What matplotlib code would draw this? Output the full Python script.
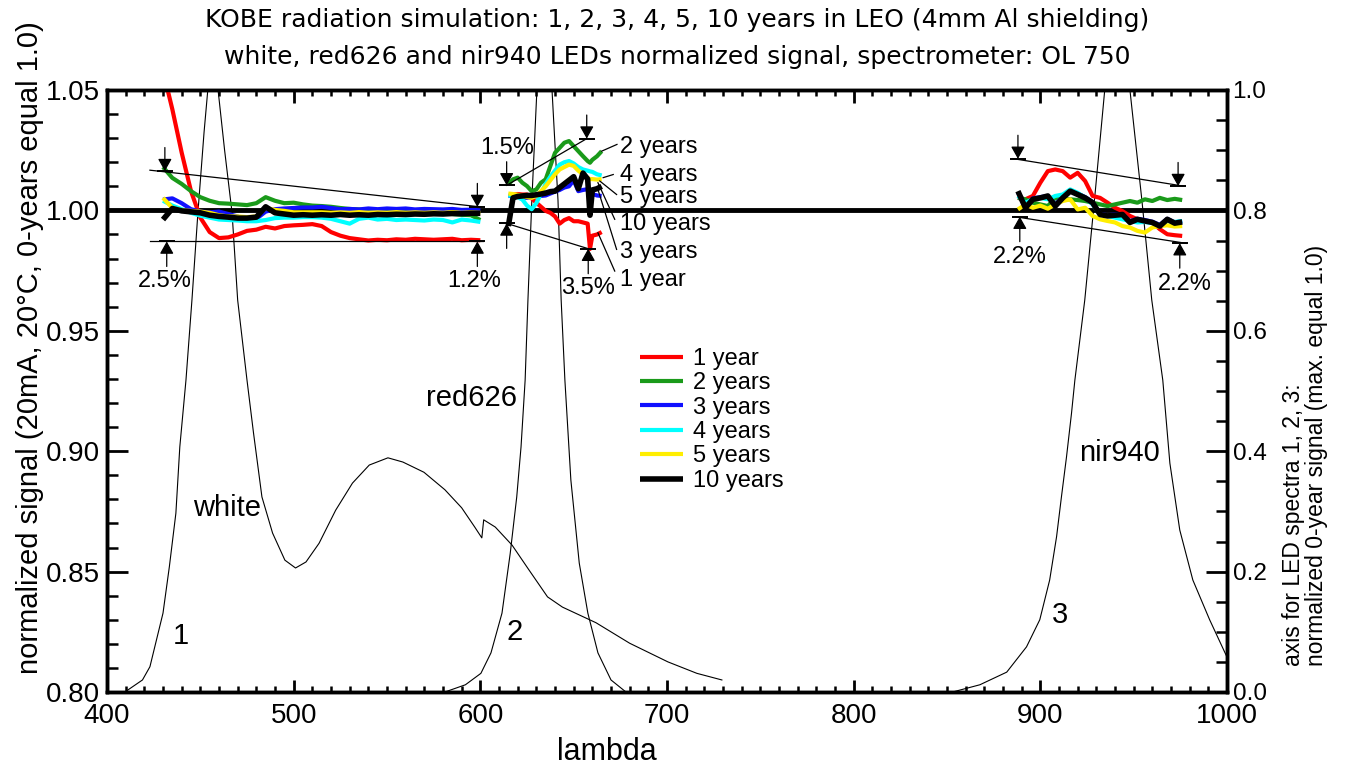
import matplotlib
matplotlib.use('Agg')
import matplotlib.pyplot as plt
import numpy as np
from matplotlib.ticker import MultipleLocator, FormatStrFormatter

plt.rcParams['font.family'] = ['Liberation Sans', 'DejaVu Sans']

# ---- LED spectra (right axis, max normalized to 1.0) ----
white_wl = [409.6, 419, 423, 430, 433.4, 436.9, 439, 442.3, 445.5, 448.7, 452, 454, 457, 459.5,
            463, 467, 470, 475, 478.5, 483, 488.7, 495.3, 501, 506.6, 513.6, 522.5, 531.5,
            540.5, 550.5, 558.5, 569.8, 581, 590, 597, 600.8, 601.8, 608, 617, 626, 636, 644,
            662, 680, 700.5, 716, 729.4]
white_sig = [0.0, 0.02, 0.042, 0.131, 0.208, 0.297, 0.407, 0.518, 0.651, 0.796, 0.93, 1.0, 1.03, 1.0,
             0.90, 0.796, 0.651, 0.518, 0.43, 0.324, 0.264, 0.219, 0.206, 0.216, 0.247, 0.302, 0.347,
             0.377, 0.389, 0.382, 0.365, 0.336, 0.306, 0.274, 0.256, 0.286, 0.274, 0.244, 0.203, 0.158, 0.141,
             0.115, 0.081, 0.050, 0.031, 0.020]

red626_wl = [581, 592, 600.3, 605.7, 611.6, 616, 619.5, 621.8, 624, 625.5, 627.6, 630.3, 634.5,
             638.4, 641.6, 643.3, 645.3, 648.5, 653, 657.6, 663, 670, 678]
red626_sig = [0.0, 0.012, 0.031, 0.065, 0.131, 0.23, 0.324, 0.407, 0.518, 0.651, 0.817, 1.0, 1.1,
              1.0, 0.817, 0.651, 0.518, 0.352, 0.214, 0.131, 0.065, 0.020, 0.0]

nir940_wl = [853, 867.6, 882, 892.6, 899.7, 905, 908.7, 911.3, 914, 916.7, 918.5, 923.8, 929, 934.5,
             941, 948, 954.4, 959.7, 965.6, 969.4, 974.7, 981.7, 990.7, 1000]
nir940_sig = [0.0, 0.012, 0.033, 0.075, 0.12, 0.186, 0.258, 0.324, 0.39, 0.463, 0.518, 0.651, 0.817, 1.0,
              1.1, 1.0, 0.817, 0.651, 0.518, 0.38, 0.269, 0.186, 0.12, 0.058]

# ---- normalized signal after irradiation (left axis) ----
years = ['1 year', '2 years', '3 years', '4 years', '5 years', '10 years']
colors = ['#ff0000', '#1a9a1a', '#1010ff', '#00ffff', '#ffee00', '#000000']

# white LED band
wl_white = [430, 435, 440, 445, 450, 455, 460, 465, 470, 475, 480, 485, 490, 495, 500, 505, 510,
            515, 520, 525, 530, 535, 540, 545, 550, 555, 560, 565, 570, 575, 580, 585, 590, 595, 600]
white_1y = [1.058, 1.042, 1.024, 1.008, 0.997, 0.991, 0.9885, 0.9888, 0.990, 0.9915, 0.992, 0.9932,
            0.9925, 0.9935, 0.9938, 0.994, 0.9943, 0.9935, 0.991, 0.9895, 0.9885, 0.988, 0.9875, 0.9878,
            0.9876, 0.988, 0.9878, 0.9882, 0.988, 0.9878, 0.988, 0.9882, 0.9876, 0.9878, 0.9876]
white_2y = [1.018, 1.0135, 1.011, 1.008, 1.0055, 1.004, 1.003, 1.0028, 1.0025, 1.0022, 1.003, 1.0055,
            1.004, 1.003, 1.0032, 1.0025, 1.002, 1.0018, 1.0015, 1.001, 1.0006, 1.0004, 1.0, 0.9998,
            0.9995, 0.9997, 0.9993, 0.9995, 0.9992, 0.9988, 0.999, 0.9985, 0.9982, 0.998, 0.996]
white_3y = [1.0045, 1.005, 1.003, 1.0005, 0.9995, 0.9992, 0.9995, 0.9985, 0.9975, 0.996, 0.9965, 0.9995,
            1.0005, 1.0008, 1.001, 1.0012, 1.0012, 1.0015, 1.001, 1.0005, 1.0006, 1.0004, 1.0008, 1.0005,
            1.0008, 1.0006, 1.0008, 1.0004, 1.0006, 1.0005, 1.0004, 1.0006, 1.0002, 1.0003, 1.0]
white_4y = [1.004, 1.002, 1.0005, 0.999, 0.9978, 0.997, 0.9962, 0.996, 0.9958, 0.9955, 0.9955, 0.996,
            0.9968, 0.997, 0.997, 0.9972, 0.9972, 0.997, 0.9965, 0.9955, 0.9945, 0.9965, 0.997, 0.9962,
            0.9965, 0.996, 0.9962, 0.996, 0.9958, 0.9962, 0.996, 0.995, 0.9962, 0.9958, 0.9952]
white_5y = [1.0052, 1.001, 1.0, 0.9998, 0.9995, 0.999, 0.998, 0.9975, 0.9975, 0.9972, 0.9975, 1.001,
            1.0002, 0.9998, 0.9992, 0.9992, 0.9992, 0.9992, 0.999, 0.9992, 0.999, 0.9993, 0.999, 0.9992,
            0.999, 0.9993, 0.999, 0.9992, 0.999, 0.9992, 0.999, 0.9993, 0.999, 0.9992, 0.999]
white_10y = [0.9962, 1.0008, 0.9998, 0.9994, 0.999, 0.998, 0.9975, 0.9972, 0.9968, 0.9968, 0.9972, 1.0015,
             0.999, 0.9985, 0.998, 0.9982, 0.998, 0.9982, 0.998, 0.9983, 0.998, 0.9982, 0.998, 0.9983,
             0.9982, 0.9984, 0.9983, 0.9985, 0.9984, 0.9986, 0.9985, 0.9987, 0.9986, 0.9988, 0.9988]

# red626 LED band
wl_red = [615, 617.5, 620, 622.5, 625, 627.5, 630, 632.5, 635, 637.5, 640, 642.5, 645, 647.5, 650,
          652.5, 655, 657.5, 658.75, 660, 662.5, 665]
red_1y = [np.nan, 1.0066, 1.0068, 1.0066, 1.0066, 1.005, 1.0032, 1.0015, 0.9998, 0.999, 0.9975, 0.9945,
          0.996, 0.9968, 0.9955, 0.9955, 0.995, 0.9945, 0.984, 0.9895, 0.990, 0.991]
red_2y = [1.0108, 1.0129, 1.0136, 1.0115, 1.0101, 1.008, 1.0087, 1.0115, 1.0129, 1.0184, 1.0239, 1.026,
          1.0281, 1.0288, 1.0267, 1.0246, 1.0225, 1.0205, 1.0198, 1.021, 1.0225, 1.0246]
red_3y = [1.006, 1.006, 1.0058, 1.0055, 1.0052, 1.0055, 1.0058, 1.006, 1.0062, 1.007, 1.0078, 1.0085,
          1.0095, 1.010, 1.0125, 1.008, 1.0085, 1.0088, 1.008, 1.0068, 1.0062, 1.006]
red_4y = [1.0062, 1.006, 1.0055, 1.0045, 1.002, 1.0005, 1.003, 1.007, 1.011, 1.014, 1.0165, 1.019,
          1.020, 1.0205, 1.0195, 1.018, 1.017, 1.0165, 1.0162, 1.016, 1.015, 1.0145]
red_5y = [1.007, 1.0068, 1.0065, 1.006, 1.0055, 1.0052, 1.006, 1.008, 1.010, 1.0125, 1.015, 1.017,
          1.018, 1.019, 1.0185, 1.0165, 1.015, 1.0135, 1.013, 1.013, 1.0128, 1.013]
red_10y = [0.9935, 1.0052, 1.0058, 1.006, 1.0062, 1.0062, 1.0065, 1.0068, 1.0072, 1.0078, 1.008, 1.0095,
           1.011, 1.0125, 1.014, 1.009, 1.0155, 1.013, 0.998, 1.0085, 1.009, 1.010]

# nir940 LED band
wl_nir = [888, 892, 896, 900, 904, 908, 912, 916, 920, 924, 928, 932, 936, 940, 944, 948, 952, 956,
          960, 964, 968, 972, 976]
nir_1y = [1.0052, 1.0046, 1.006, 1.0115, 1.0163, 1.017, 1.0163, 1.0136, 1.0156, 1.0122, 1.006, 1.0052,
          1.0032, 1.0011, 0.9997, 0.9977, 0.9963, 0.9956, 0.995, 0.9922, 0.9901, 0.9897, 0.9894]
nir_2y = [1.0052, 1.0046, 1.0032, 1.0025, 1.0018, 1.0052, 1.0046, 1.0046, 1.0043, 1.0039, 1.0032, 1.0025,
          1.0018, 1.0025, 1.0032, 1.0039, 1.0032, 1.0046, 1.0039, 1.0052, 1.0043, 1.0048, 1.0043]
nir_3y = [1.0075, 1.002, 1.005, 1.0055, 1.006, 1.0025, 1.0055, 1.0082, 1.007, 1.0055, 1.0035, 0.9985,
          0.998, 0.9983, 0.9985, 0.9955, 0.9965, 0.996, 0.9953, 0.994, 0.9965, 0.995, 0.9955]
nir_4y = [1.006, 1.0032, 1.0046, 1.0052, 1.0046, 1.006, 1.0066, 1.0087, 1.0073, 1.0052, 1.0025, 0.9983,
          0.9977, 0.997, 0.9963, 0.9956, 0.995, 0.9952, 0.9947, 0.9938, 0.9956, 0.9952, 0.9956]
nir_5y = [1.0004, 1.0025, 1.0011, 1.002, 1.0007, 1.0025, 1.0039, 1.0046, 1.0004, 1.0011, 0.9977, 0.9963,
          0.9956, 0.995, 0.9935, 0.9929, 0.9915, 0.9908, 0.9929, 0.9935, 0.9938, 0.9933, 0.9935]
nir_10y = [1.008, 1.0011, 1.0046, 1.0052, 1.006, 1.0018, 1.0052, 1.008, 1.0066, 1.0052, 1.0032, 0.9983,
           0.9977, 0.998, 0.9983, 0.995, 0.9963, 0.9956, 0.995, 0.9935, 0.9963, 0.9947, 0.9952]

bands = [
    (wl_white, [white_1y, white_2y, white_3y, white_4y, white_5y, white_10y]),
    (wl_red, [red_1y, red_2y, red_3y, red_4y, red_5y, red_10y]),
    (wl_nir, [nir_1y, nir_2y, nir_3y, nir_4y, nir_5y, nir_10y]),
]

fig = plt.figure(figsize=(13.46, 7.71), dpi=100)
ax = fig.add_axes([107 / 1346, 1 - 692 / 771, 1120 / 1346, 602 / 771])
ax2 = ax.twinx()

# spectra on the right axis, drawn underneath the signal curves
for wl, sig in [(white_wl, white_sig), (red626_wl, red626_sig), (nir940_wl, nir940_sig)]:
    ax2.plot(wl, sig, color='k', lw=0.8)
ax2.set_ylim(0, 1.0)
ax.set_zorder(ax2.get_zorder() + 1)
ax.patch.set_visible(False)

ax.axhline(1.0, color='k', lw=3.5, zorder=1)

for bi, (wl, series) in enumerate(bands):
    for i, vals in enumerate(series):
        ax.plot(wl, vals, color=colors[i], lw=4 if i == 5 else 3, zorder=2 + i,
                solid_capstyle='butt', label=years[i] if bi == 0 else None)

ax.set_xlim(400, 1000)
ax.set_ylim(0.80, 1.05)

# envelope lines and percentage markers
env_lines = [
    ((423, 600.7), (1.0167, 1.0014)), ((423, 601.5), (0.9871, 0.9871)),
    ((614.1, 657), (1.0104, 1.0298)), ((614.1, 657.8), (0.9946, 0.9841)),
    ((885.4, 976.5), (1.0215, 1.0101)), ((886.3, 978.3), (0.9974, 0.9863)),
]
for xs, ys in env_lines:
    ax.plot(xs, ys, color='k', lw=0.9, zorder=10)

down_tips = [(431, 1.0163), (598.4, 1.0014), (614.1, 1.0104), (657, 1.0298), (888, 1.0214), (973.8, 1.0101)]
up_tips = [(432, 0.9871), (598.4, 0.9871), (614.1, 0.9946), (657.8, 0.9841), (889, 0.9974), (974.7, 0.9864)]


def marker_arrow(x, y, off):
    ax.annotate('', xy=(x, y), xytext=(0, off), textcoords='offset points', zorder=11,
                arrowprops=dict(arrowstyle='-|>,head_length=0.75,head_width=0.42', color='k',
                                lw=0.9, shrinkA=0, shrinkB=0, mutation_scale=10))
    ax.plot([x], [y], marker='_', ms=12, mew=1.4, color='k', zorder=11)


for x, y in down_tips:
    marker_arrow(x, y, 17)
for x, y in up_tips:
    marker_arrow(x, y, -18)

pct_labels = [(431, 0.9707, '2.5%'), (596.6, 0.9707, '1.2%'), (614.3, 1.0259, '1.5%'),
              (657.6, 0.9678, '3.5%'), (889, 0.9807, '2.2%'), (977.4, 0.9695, '2.2%')]
for x, y, t in pct_labels:
    ax.text(x, y, t, fontsize=17, ha='center', va='center', zorder=12)

# year labels next to the red626 band
year_tags = [('2 years', 1.0263, (665, 1.0246), (673.2, 1.0274)),
             ('4 years', 1.0147, (665.8, 1.0136), (671.2, 1.0149)),
             ('5 years', 1.0056, (664, 1.0122), (673, 1.0066)),
             ('10 years', 0.9942, (663, 1.0115), (672, 0.9963)),
             ('3 years', 0.9826, (663, 1.0087), (673, 0.9838)),
             ('1 year', 0.9712, (663, 0.9907), (672, 0.9748))]
for t, ty, p0, p1 in year_tags:
    ax.plot([p0[0], p1[0]], [p0[1], p1[1]], color='k', lw=0.9, zorder=10)
    ax.text(674.8, ty, t, fontsize=17, ha='left', va='center', zorder=12)

ax.text(464.3, 0.8765, 'white', fontsize=21, ha='center', va='center')
ax.text(595.5, 0.9222, 'red626', fontsize=21, ha='center', va='center')
ax.text(942.6, 0.8993, 'nir940', fontsize=21, ha='center', va='center')
ax.text(439.6, 0.8234, '1', fontsize=21, ha='center', va='center')
ax.text(618.5, 0.825, '2', fontsize=21, ha='center', va='center')
ax.text(910.4, 0.832, '3', fontsize=21, ha='center', va='center')

# axes styling
ax.xaxis.set_major_locator(MultipleLocator(100))
ax.xaxis.set_minor_locator(MultipleLocator(10))
ax.yaxis.set_major_locator(MultipleLocator(0.05))
ax.yaxis.set_minor_locator(MultipleLocator(0.01))
ax.yaxis.set_major_formatter(FormatStrFormatter('%.2f'))
ax2.yaxis.set_major_locator(MultipleLocator(0.2))
ax2.yaxis.set_minor_locator(MultipleLocator(0.05))
ax2.yaxis.set_major_formatter(FormatStrFormatter('%.1f'))

ax.tick_params(axis='x', which='both', direction='in', top=True, bottom=True, width=2)
ax.tick_params(axis='x', which='major', length=9, labelsize=20, pad=8)
ax.tick_params(axis='x', which='minor', length=4.5, width=1.8)
ax.tick_params(axis='y', which='both', direction='in', left=True, right=False, width=2)
ax.tick_params(axis='y', which='major', length=15, labelsize=20, pad=5)
ax.tick_params(axis='y', which='minor', length=8, width=1.8)
ax2.tick_params(axis='y', which='both', direction='in', width=2)
ax2.tick_params(axis='y', which='major', length=15, labelsize=17.5, pad=4)
ax2.tick_params(axis='y', which='minor', length=8, width=1.8)
for a in (ax, ax2):
    for s in a.spines.values():
        s.set_linewidth(2.5)

leg = ax.legend(loc='upper left', bbox_to_anchor=(640 / 1346, 1 - 348 / 771),
                bbox_transform=fig.transFigure, frameon=False, fontsize=17,
                handlelength=1.8, handletextpad=0.45, labelspacing=0.1,
                borderpad=0, borderaxespad=0)

fig.text(677 / 1346, 1 - 20 / 771, 'KOBE radiation simulation: 1, 2, 3, 4, 5, 10 years in LEO (4mm Al shielding)',
         fontsize=18, ha='center', va='center', family='DejaVu Sans')
fig.text(677 / 1346, 1 - 57 / 771, 'white, red626 and nir940 LEDs normalized signal, spectrometer: OL 750',
         fontsize=18, ha='center', va='center', family='DejaVu Sans')
fig.text(607 / 1346, 1 - 752 / 771, 'lambda', fontsize=22, ha='center', va='center')
fig.text(30 / 1346, 1 - 348 / 771, 'normalized signal (20mA, 20°C, 0-years equal 1.0)',
         fontsize=21, rotation=90, ha='center', va='center')
fig.text(1305 / 1346, 1 - 666 / 771, 'axis for LED spectra 1, 2, 3:\nnormalized 0-year signal (max. equal 1.0)',
         fontsize=16.5, rotation=90, ha='center', va='bottom', multialignment='left', linespacing=1.05)

plt.savefig('out.png', dpi=100)
